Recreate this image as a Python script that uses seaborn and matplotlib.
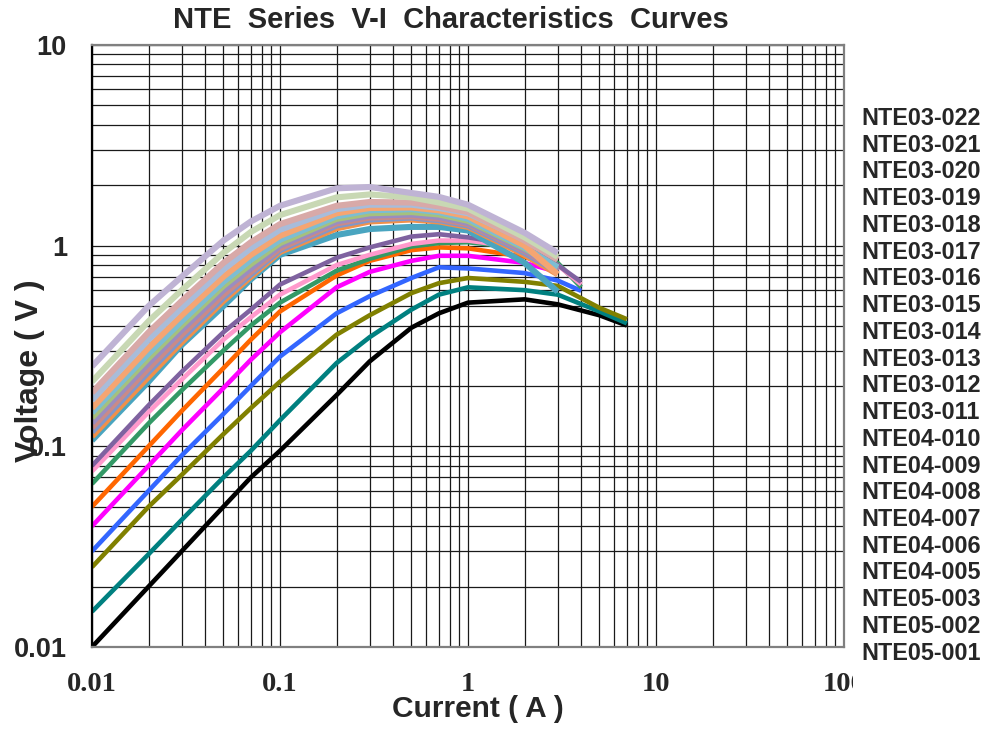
import numpy as np
import pandas as pd
import matplotlib
matplotlib.use("Agg")
import matplotlib.pyplot as plt
import seaborn as sns
from matplotlib.ticker import LogLocator, NullFormatter
from matplotlib.transforms import Bbox, TransformedBbox

# ---------------- data ----------------
current_3a = [0.01, 0.02, 0.03, 0.05, 0.07, 0.1, 0.2, 0.3, 0.5, 0.7, 1, 2, 3]
current_4a = [0.01, 0.02, 0.03, 0.05, 0.07, 0.1, 0.2, 0.3, 0.5, 0.7, 1, 2, 3, 4]
current_7a = [0.01, 0.02, 0.03, 0.05, 0.07, 0.1, 0.2, 0.3, 0.5, 0.7, 1, 2, 3, 5, 7]

nte05_001 = [0.010, 0.020, 0.030, 0.050, 0.070, 0.095, 0.18, 0.265, 0.39, 0.46, 0.52, 0.54, 0.51, 0.45, 0.40]
nte05_002 = [0.015, 0.029, 0.043, 0.070, 0.095, 0.135, 0.26, 0.35, 0.48, 0.57, 0.62, 0.60, 0.57, 0.47, 0.41]
nte05_003 = [0.025, 0.050, 0.072, 0.115, 0.155, 0.21, 0.36, 0.45, 0.58, 0.65, 0.69, 0.66, 0.63, 0.49, 0.43]

nte04_005 = [0.030, 0.060, 0.090, 0.145, 0.20, 0.28, 0.46, 0.56, 0.69, 0.78, 0.77, 0.73, 0.67, 0.595]
nte04_006 = [0.040, 0.080, 0.120, 0.195, 0.27, 0.37, 0.62, 0.74, 0.84, 0.89, 0.89, 0.82, 0.74]
nte04_007 = [0.050, 0.100, 0.150, 0.245, 0.34, 0.47, 0.71, 0.84, 0.95, 0.98, 0.97, 0.88, 0.76]
nte04_008 = [0.065, 0.130, 0.190, 0.300, 0.40, 0.52, 0.75, 0.86, 0.99, 1.03, 1.04, 0.97, 0.82, 0.62]
nte04_009 = [0.075, 0.148, 0.215, 0.340, 0.44, 0.57, 0.80, 0.90, 1.02, 1.06, 1.06, 0.97, 0.80, 0.64]
nte04_010 = [0.080, 0.160, 0.235, 0.370, 0.48, 0.64, 0.87, 0.98, 1.11, 1.14, 1.10, 0.99, 0.80, 0.66]

nte03_011 = [0.107, 0.210, 0.320, 0.50, 0.68, 0.90, 1.13, 1.21, 1.24, 1.24, 1.19, 0.82, 0.59]
nte03_012 = [0.112, 0.222, 0.330, 0.53, 0.70, 0.93, 1.22, 1.32, 1.35, 1.32, 1.24, 0.90, 0.72]
nte03_013 = [0.118, 0.235, 0.345, 0.55, 0.72, 0.95, 1.26, 1.35, 1.38, 1.34, 1.26, 0.92, 0.74]
nte03_014 = [0.124, 0.245, 0.360, 0.57, 0.74, 0.97, 1.29, 1.38, 1.40, 1.36, 1.28, 0.94, 0.75]
nte03_015 = [0.131, 0.260, 0.380, 0.60, 0.77, 1.00, 1.32, 1.41, 1.43, 1.39, 1.30, 0.95, 0.76]
nte03_016 = [0.139, 0.275, 0.400, 0.63, 0.81, 1.03, 1.36, 1.45, 1.47, 1.43, 1.33, 0.97, 0.78]
nte03_017 = [0.147, 0.290, 0.420, 0.66, 0.85, 1.07, 1.40, 1.50, 1.52, 1.47, 1.36, 0.98, 0.78]
nte03_018 = [0.155, 0.310, 0.450, 0.70, 0.90, 1.12, 1.45, 1.54, 1.55, 1.50, 1.40, 1.00, 0.72]
nte03_019 = [0.170, 0.340, 0.490, 0.76, 0.97, 1.20, 1.52, 1.60, 1.60, 1.54, 1.45, 1.07, 0.86]
nte03_020 = [0.185, 0.370, 0.530, 0.82, 1.04, 1.28, 1.58, 1.65, 1.64, 1.57, 1.47, 1.06, 0.85]
nte03_021 = [0.210, 0.420, 0.600, 0.92, 1.17, 1.42, 1.74, 1.80, 1.74, 1.64, 1.53, 1.10, 0.88]
nte03_022 = [0.250, 0.500, 0.700, 1.06, 1.32, 1.58, 1.93, 1.96, 1.83, 1.75, 1.60, 1.16, 0.92]

series_names = ["NTE05-001", "NTE05-002", "NTE05-003",
                "NTE04-005", "NTE04-006", "NTE04-007", "NTE04-008", "NTE04-009", "NTE04-010",
                "NTE03-011", "NTE03-012", "NTE03-013", "NTE03-014", "NTE03-015", "NTE03-016",
                "NTE03-017", "NTE03-018", "NTE03-019", "NTE03-020", "NTE03-021", "NTE03-022"]
series_values = [nte05_001, nte05_002, nte05_003,
                 nte04_005, nte04_006, nte04_007, nte04_008, nte04_009, nte04_010,
                 nte03_011, nte03_012, nte03_013, nte03_014, nte03_015, nte03_016,
                 nte03_017, nte03_018, nte03_019, nte03_020, nte03_021, nte03_022]
series_currents = ([current_7a] * 3 + [current_4a, current_3a, current_3a]
                   + [current_4a] * 3 + [current_3a] * 12)
series_colors = ["#000000", "#008080", "#808000",
                 "#3366FF", "#FF00FF", "#FF6600", "#339966", "#FF99CC", "#7F62A0",
                 "#4AA5C0", "#F0904A", "#8097CA", "#C98A88", "#9A8DC0", "#A5C17E",
                 "#7DBDD3", "#F5A572", "#A8BCDA", "#D8A9A8", "#C8D8B4", "#BFB3D4"]
series_widths = [3.3] * 9 + [4.4] * 12

x_ticks = [0.01, 0.1, 1, 10, 100]
x_tick_labels = ["0.01", "0.1", "1", "10", "100"]
y_ticks = [0.01, 0.1, 1, 10]
y_tick_labels = ["0.01", "0.1", "1", "10"]

rows = []
for name, cur, vals in zip(series_names, series_currents, series_values):
    for c, v in zip(cur, vals):
        rows.append({"Series": name, "Current": c, "Voltage": v})
df = pd.DataFrame(rows)

# ---------------- plot ----------------
sns.set_style("white")
plt.rcParams["font.family"] = ["Liberation Sans", "DejaVu Sans"]

fig = plt.figure(figsize=(9.89, 7.29), dpi=100)
ax = fig.add_axes([0.0930, 0.1125, 0.7604, 0.8258])
ax.set_xscale("log")
ax.set_yscale("log")

for name, col, lw in zip(series_names, series_colors, series_widths):
    sub = df[df["Series"] == name]
    sns.lineplot(data=sub, x="Current", y="Voltage", color=col, linewidth=lw,
                 estimator=None, sort=False, ax=ax, label=name, legend=False,
                 solid_joinstyle="round", solid_capstyle="butt")

ax.set_xlim(0.01, 100)
ax.set_ylim(0.01, 10)

ax.xaxis.set_minor_locator(LogLocator(base=10, subs=np.arange(2, 10)))
ax.yaxis.set_minor_locator(LogLocator(base=10, subs=np.arange(2, 10)))
ax.xaxis.set_minor_formatter(NullFormatter())
ax.yaxis.set_minor_formatter(NullFormatter())
ax.set_xticks(x_ticks, labels=x_tick_labels)
ax.set_yticks(y_ticks, labels=y_tick_labels)
ax.tick_params(which="both", length=0)
ax.tick_params(axis="x", pad=18)
ax.tick_params(axis="y", pad=18)
for lab in ax.get_xticklabels():
    lab.set_fontfamily(["Liberation Serif", "DejaVu Serif"])
    lab.set_fontweight("bold")
    lab.set_fontsize(20.5)
for lab in ax.get_yticklabels():
    lab.set_fontweight("bold")
    lab.set_fontsize(19.5)

ax.set_axisbelow(True)
ax.grid(True, which="both", color="#1a1a1a", linewidth=0.9)

for side in ["top", "right", "bottom"]:
    ax.spines[side].set_color("#808080")
    ax.spines[side].set_linewidth(1.6)
ax.spines["left"].set_color("#000000")
ax.spines["left"].set_linewidth(1.6)

ax.set_xlabel("Current ( A )", fontsize=21.5, fontweight="bold")
ax.xaxis.set_label_coords(0.5133, -0.117)
ax.xaxis.label.set_va("baseline")
ax.set_ylabel("Voltage ( V )", fontsize=23, fontweight="bold")
ax.yaxis.set_label_coords(-0.062, 0.4585)

ax.text(0.4774, 1.0415, "NTE  Series  V-I  Characteristics  Curves", transform=ax.transAxes,
        ha="center", va="center", fontsize=21, fontweight="bold")

handles = ax.get_lines()[::-1]
leg = ax.legend(handles, series_names[::-1], loc="upper left",
                bbox_to_anchor=(861 / 989, 1 - 107 / 729), bbox_transform=fig.transFigure,
                frameon=False, handlelength=0, handletextpad=0, borderpad=0,
                borderaxespad=0, labelspacing=0.16,
                prop={"family": "Liberation Sans", "weight": "bold", "size": 16.8})

# the "100" label is cut off at the right edge of the plot area in the reference
last = ax.get_xticklabels()[-1]
last.set_clip_on(True)
last.set_clip_box(TransformedBbox(Bbox.from_extents(0, 0, 853 / 989, 1), fig.transFigure))

fig.savefig("out.png", dpi=100)
